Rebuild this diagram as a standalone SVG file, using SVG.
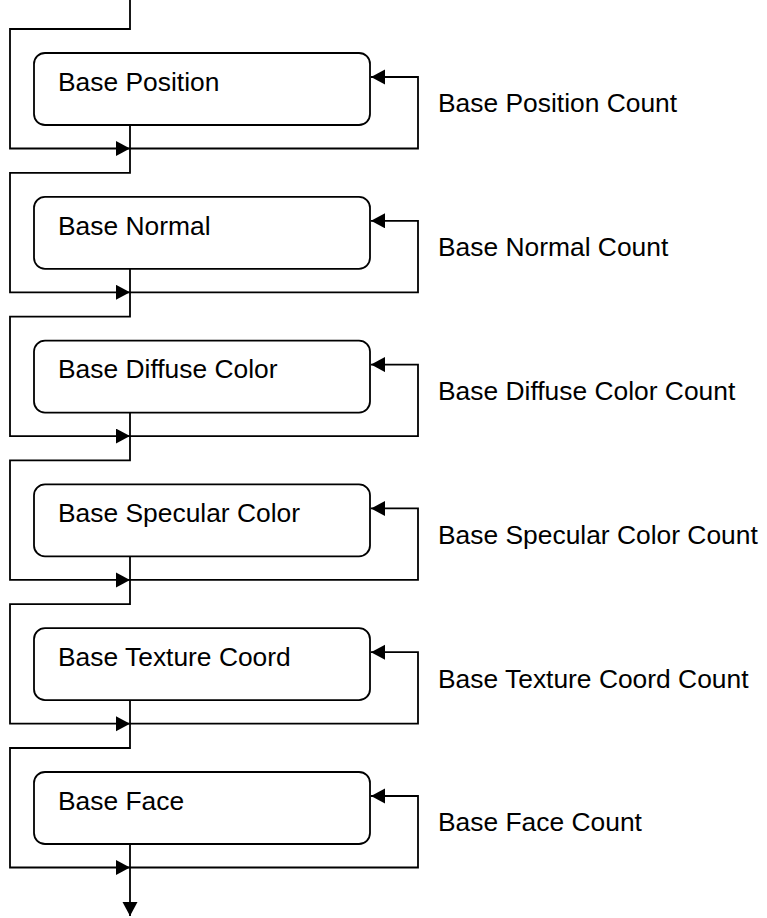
<svg xmlns="http://www.w3.org/2000/svg" width="767" height="918" viewBox="0 0 767 918">
<style>
.box{fill:#fff;stroke:#000;stroke-width:1.8}
.t{font-family:"Liberation Sans",Arial,sans-serif;font-size:26.4px;fill:#000}
.c{fill:none;stroke:#000;stroke-width:1.8}
</style>
<defs>
<marker id="ah" markerUnits="userSpaceOnUse" markerWidth="15" markerHeight="16" refX="14" refY="7.5" orient="auto" viewBox="0 0 15 16">
<path d="M0,0 L14,7.5 L0,15 z" fill="#000"/>
</marker>
</defs>
<rect width="767" height="918" fill="#fff"/>
<g id="connectors">
<path class="c" d="M130,0 V29 H10 V148.5 H130" marker-end="url(#ah)"/>
<path class="c" d="M130,148.5 H418 V77 H371" marker-end="url(#ah)"/>
<path class="c" d="M130,125 V172.8 H10 V292.3 H130" marker-end="url(#ah)"/>
<path class="c" d="M130,292.3 H418 V220.8 H371" marker-end="url(#ah)"/>
<path class="c" d="M130,268.8 V316.6 H10 V436.1 H130" marker-end="url(#ah)"/>
<path class="c" d="M130,436.1 H418 V364.6 H371" marker-end="url(#ah)"/>
<path class="c" d="M130,412.6 V460.4 H10 V579.9 H130" marker-end="url(#ah)"/>
<path class="c" d="M130,579.9 H418 V508.4 H371" marker-end="url(#ah)"/>
<path class="c" d="M130,556.4 V604.2 H10 V723.7 H130" marker-end="url(#ah)"/>
<path class="c" d="M130,723.7 H418 V652.2 H371" marker-end="url(#ah)"/>
<path class="c" d="M130,700.2 V748 H10 V867.5 H130" marker-end="url(#ah)"/>
<path class="c" d="M130,867.5 H418 V796 H371" marker-end="url(#ah)"/>
<path class="c" d="M130,844 V916" marker-end="url(#ah)"/>
</g>
<g id="n1"><rect class="box" x="34" y="53" width="336" height="72" rx="11"/><text class="t" x="58" y="90.7">Base Position</text></g>
<g id="n2"><rect class="box" x="34" y="196.8" width="336" height="72" rx="11"/><text class="t" x="58" y="234.5">Base Normal</text></g>
<g id="n3"><rect class="box" x="34" y="340.6" width="336" height="72" rx="11"/><text class="t" x="58" y="378.3">Base Diffuse Color</text></g>
<g id="n4"><rect class="box" x="34" y="484.4" width="336" height="72" rx="11"/><text class="t" x="58" y="522.1">Base Specular Color</text></g>
<g id="n5"><rect class="box" x="34" y="628.2" width="336" height="72" rx="11"/><text class="t" x="58" y="665.9">Base Texture Coord</text></g>
<g id="n6"><rect class="box" x="34" y="772" width="336" height="72" rx="11"/><text class="t" x="58" y="809.7">Base Face</text></g>
<g id="l1"><text class="t" x="438" y="112.3">Base Position Count</text></g>
<g id="l2"><text class="t" x="438" y="256.1">Base Normal Count</text></g>
<g id="l3"><text class="t" x="438" y="399.9">Base Diffuse Color Count</text></g>
<g id="l4"><text class="t" x="438" y="543.7">Base Specular Color Count</text></g>
<g id="l5"><text class="t" x="438" y="687.5">Base Texture Coord Count</text></g>
<g id="l6"><text class="t" x="438" y="831.3">Base Face Count</text></g>
</svg>
